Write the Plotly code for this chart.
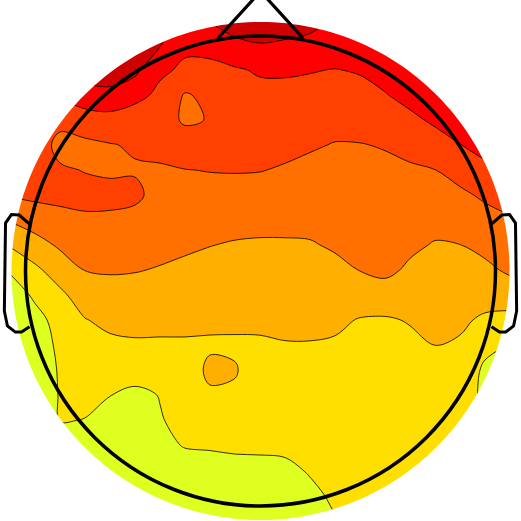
import numpy as np
import plotly.graph_objects as go

# ---------------- data: scalp map values ----------------
# grid nodes (picture pixel coordinates)
grid_x = [10, 35, 60, 85, 110, 135, 160, 185, 210, 235, 260,
          285, 310, 335, 360, 385, 410, 435, 460, 485, 510]
grid_y = [20, 45, 70, 95, 120, 145, 170, 195, 220, 245, 270,
          295, 320, 345, 370, 395, 420, 445, 470, 495, 520]

# value at each node, one list per column (top -> bottom), in level units
col_010 = [4.3, 4.3, 4.3, 4.3, 4.3, 4.2, 4.0, 3.58, 2.58, 1.58, 0.65, -0.3, -0.5, -0.6, -0.6, -0.6, -0.6, -0.6, -0.6, -0.6, -0.6]
col_035 = [4.3, 4.3, 4.3, 4.3, 4.3, 4.3, 4.3, 3.71, 2.95, 2.12, 1.3, 0.74, 0.03, -0.3, -0.5, -0.6, -0.6, -0.6, -0.6, -0.6, -0.6]
col_060 = [5.2, 5.1, 4.9, 4.6, 3.88, 3.09, 3.66, 3.75, 3.2, 2.64, 1.97, 1.3, 1.0, 0.8, 0.65, 0.6, 0.55, 0.2, 0.0, 0.0, 0.0]
col_085 = [6.0, 6.0, 5.9, 5.06, 4.05, 3.29, 3.45, 3.87, 3.3, 2.92, 2.52, 1.98, 1.46, 1.23, 0.97, 0.72, 0.48, 0.2, 0.0, -0.2, -0.3]
col_110 = [6.3, 6.2, 6.2, 5.15, 4.17, 3.45, 3.3, 3.9, 3.25, 2.96, 2.58, 2.16, 1.72, 1.31, 0.91, 0.52, 0.1, -0.2, -0.4, -0.5, -0.5]
col_135 = [6.3, 6.2, 5.75, 4.78, 4.0, 3.6, 3.42, 3.7, 3.2, 2.91, 2.54, 2.17, 1.79, 1.38, 0.88, 0.3, 0.0, -0.3, -0.5, -0.5, -0.5]
col_160 = [5.9, 5.55, 4.65, 4.3, 4.0, 3.71, 3.42, 3.15, 2.95, 2.72, 2.45, 2.1, 1.75, 1.38, 0.97, 0.53, 0.45, 0.3, 0.0, -0.2, -0.4]
col_185 = [5.3, 4.65, 4.36, 3.42, 3.35, 4.05, 3.48, 3.2, 2.92, 2.63, 2.33, 2.01, 1.69, 1.41, 1.18, 0.95, 0.73, 0.55, 0.15, -0.1, -0.3]
col_210 = [5.6, 4.75, 4.3, 3.7, 3.55, 3.74, 3.53, 3.2, 2.86, 2.52, 2.23, 1.94, 1.62, 1.42, 1.62, 1.42, 0.9, 0.6, 0.15, -0.1, -0.3]
col_235 = [6.1, 5.21, 4.4, 4.23, 4.0, 3.77, 3.55, 3.18, 2.79, 2.43, 2.17, 1.9, 1.64, 1.4, 1.55, 1.4, 0.95, 0.7, 0.15, -0.1, -0.3]
col_260 = [6.2, 5.44, 4.6, 4.25, 4.04, 3.78, 3.53, 3.15, 2.74, 2.4, 2.15, 1.89, 1.64, 1.41, 1.15, 1.0, 0.8, 0.7, 0.2, -0.1, -0.3]
col_285 = [6.0, 5.36, 4.6, 4.28, 4.0, 3.72, 3.42, 3.07, 2.72, 2.41, 2.17, 1.93, 1.69, 1.46, 1.25, 1.04, 0.83, 0.7, 0.3, 0.0, -0.2]
col_310 = [5.85, 5.2, 4.55, 4.21, 3.9, 3.59, 3.29, 3.0, 2.72, 2.44, 2.19, 1.95, 1.7, 1.46, 1.28, 1.1, 0.93, 0.75, 0.58, 0.3, 0.1]
col_335 = [5.4, 5.1, 4.47, 4.13, 3.78, 3.46, 3.24, 3.02, 2.8, 2.59, 2.31, 1.99, 1.67, 1.4, 1.3, 1.2, 1.1, 1.0, 0.85, 0.65, 0.45]
col_360 = [5.3, 5.0, 4.58, 4.2, 3.82, 3.47, 3.28, 3.09, 2.9, 2.71, 2.52, 1.99, 1.45, 1.35, 1.25, 1.15, 1.05, 0.95, 0.85, 0.75, 0.65]
col_385 = [5.3, 5.1, 4.85, 4.45, 4.0, 3.55, 3.33, 3.14, 2.95, 2.8, 2.7, 2.1, 1.4, 1.3, 1.2, 1.1, 1.0, 0.95, 0.9, 0.85, 0.8]
col_410 = [5.3, 5.2, 5.0, 4.8, 4.29, 3.77, 3.38, 3.14, 2.9, 2.66, 2.36, 1.96, 1.56, 1.3, 1.25, 1.2, 1.1, 1.0, 0.95, 0.9, 0.85]
col_435 = [5.3, 5.2, 5.0, 4.85, 4.66, 4.08, 3.49, 3.14, 2.78, 2.44, 2.2, 1.97, 1.74, 1.51, 1.3, 1.2, 1.1, 1.0, 0.95, 0.9, 0.85]
col_460 = [5.3, 5.2, 5.1, 5.0, 4.9, 4.48, 3.86, 3.32, 2.9, 2.49, 2.21, 1.93, 1.65, 1.4, 1.3, 1.2, 1.1, 1.0, 0.95, 0.9, 0.85]
col_485 = [5.3, 5.2, 5.1, 5.0, 4.9, 4.85, 4.25, 3.65, 3.17, 2.74, 2.3, 1.85, 1.36, 0.8, 0.3, 0.2, 0.3, 0.4, 0.4, 0.4, 0.4]
col_510 = [5.3, 5.2, 5.1, 5.0, 4.9, 4.8, 4.52, 3.94, 3.4, 3.04, 2.65, 2.0, 1.2, 0.45, 0.2, 0.1, 0.3, 0.3, 0.3, 0.3, 0.3]

z_columns = [col_010, col_035, col_060, col_085, col_110, col_135, col_160,
             col_185, col_210, col_235, col_260, col_285, col_310, col_335,
             col_360, col_385, col_410, col_435, col_460, col_485, col_510]

# contour levels and band colours (lowest band first)
level_start, level_end, level_step = 0.5, 5.5, 1.0
band_colors = ["#DFFF20", "#FFDF00", "#FFAF00", "#FF7000",
               "#FF4000", "#FF0000", "#CF0000"]

# ---------------- head outline geometry (in head-radius units) ----------------
head_cx, head_cy, head_r = 260.5, 271.0, 235.0
disc_cx, disc_cy, disc_r = 260.5, 271.0, 249.0
nose_x = [-0.181, 0.0, 0.181]
nose_y = [0.991, 1.19, 0.991]
ear_x = [0.983, 1.027, 1.06, 1.085, 1.09, 1.077, 1.043, 1.017, 0.983]
ear_y = [0.20, 0.238, 0.24, 0.204, -0.17, -0.234, -0.26, -0.26, -0.237]

# ---------------- build figure ----------------
z = np.array(z_columns).T
n = len(band_colors)
cscale = []
for k, c in enumerate(band_colors):
    lo = max(0.0, (k - 0.5) / (n - 1))
    hi = min(1.0, (k + 0.5) / (n - 1))
    cscale.append([lo, c])
    cscale.append([hi, c])

fig = go.Figure()
fig.add_trace(go.Contour(
    x=grid_x, y=grid_y, z=z,
    contours=dict(start=level_start, end=level_end, size=level_step,
                  coloring="fill", showlines=True),
    line=dict(color="black", width=0.8, smoothing=1.0),
    colorscale=cscale, showscale=False, hoverinfo="skip",
))

def px(u):
    return head_cx + u * head_r

def py(v):
    return head_cy - v * head_r

# white mask outside the coloured disc
t = np.linspace(0, 2 * np.pi, 241)
circ = " L".join(f"{disc_cx + disc_r*np.cos(a):.2f},{disc_cy + disc_r*np.sin(a):.2f}" for a in t)
mask_path = "M-20,-20 L541,-20 L541,541 L-20,541 Z M" + circ + " Z"

shapes = [dict(type="path", path=mask_path, xref="x", yref="y",
               fillcolor="white", line=dict(width=0), layer="above",
               fillrule="evenodd")]

shapes.append(dict(type="circle", xref="x", yref="y",
                   x0=head_cx - head_r, x1=head_cx + head_r,
                   y0=head_cy - head_r, y1=head_cy + head_r,
                   line=dict(color="black", width=3.5), layer="above"))

nose_path = "M" + " L".join(f"{px(u):.2f},{py(v):.2f}" for u, v in zip(nose_x, nose_y))
shapes.append(dict(type="path", path=nose_path, xref="x", yref="y",
                   line=dict(color="black", width=3.2), layer="above"))

for side in (1, -1):
    ear_path = "M" + " L".join(f"{px(side*u):.2f},{py(v):.2f}" for u, v in zip(ear_x, ear_y))
    shapes.append(dict(type="path", path=ear_path, xref="x", yref="y",
                       line=dict(color="black", width=3.0), layer="above"))

fig.update_layout(
    width=521, height=521,
    margin=dict(l=0, r=0, t=0, b=0),
    paper_bgcolor="white", plot_bgcolor="white",
    xaxis=dict(range=[0, 521], visible=False, showgrid=False, zeroline=False),
    yaxis=dict(range=[521, 0], visible=False, showgrid=False, zeroline=False),
    shapes=shapes,
    showlegend=False,
)

fig.write_html("out.html")
